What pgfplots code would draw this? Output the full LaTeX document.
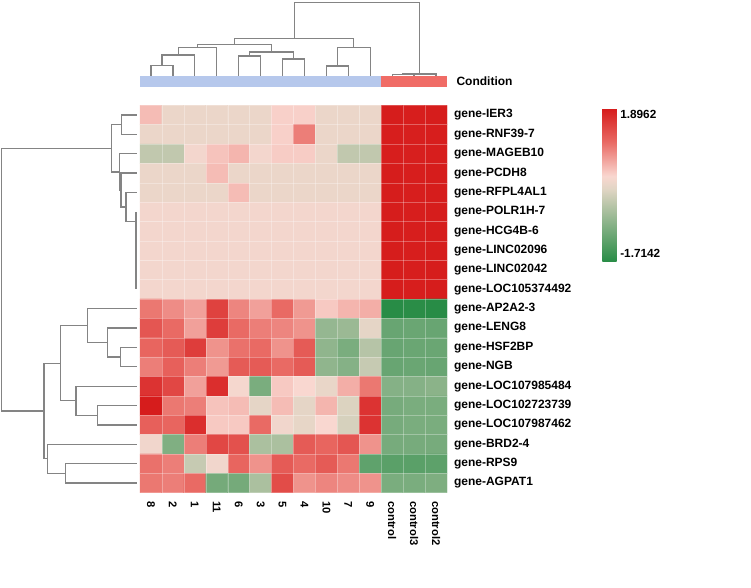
\documentclass[border=0pt]{standalone}
\usepackage{fontspec}
\setmainfont{Liberation Sans}
\usepackage{pgfplots}
\pgfplotsset{compat=1.18}

\definecolor{dendro}{RGB}{132,132,132}
\definecolor{condblue}{RGB}{182,200,236}
\definecolor{condred}{RGB}{240,108,102}

\begin{document}
\begin{tikzpicture}
\path[use as bounding box] (0,0) rectangle (751bp,588bp);
\begin{axis}[
  at={(140bp,95.3bp)}, anchor=south west,
  scale only axis, width=307bp, height=387.4bp,
  xmin=-0.5, xmax=13.5, ymin=-0.5, ymax=19.5,
  clip=false, axis on top,
  axis line style={draw=none},
  major tick length=0pt, minor tick length=0pt,
  colormap={heat}{
    rgb255(0cm)=(40,140,70);
    rgb255(1.7142cm)=(225,213,196);
    rgb255(2.0142cm)=(249,215,208);
    rgb255(2.8142cm)=(233,106,100);
    rgb255(3.6104cm)=(214,27,27)
  },
  point meta min=-1.7142, point meta max=1.8962,
  xtick={0,...,13},
  xticklabels={8,2,1,11,6,3,5,4,10,7,9,control,control3,control2},
  xticklabel shift=5bp,
  xticklabel style={rotate=-90, anchor=west, font=\fontsize{11.2bp}{12bp}\selectfont\bfseries},
  ytick={0,...,19},
  yticklabels={gene-AGPAT1,gene-RPS9,gene-BRD2-4,gene-LOC107987462,gene-LOC102723739,
    gene-LOC107985484,gene-NGB,gene-HSF2BP,gene-LENG8,gene-AP2A2-3,gene-LOC105374492,
    gene-LINC02042,gene-LINC02096,gene-HCG4B-6,gene-POLR1H-7,gene-RFPL4AL1,gene-PCDH8,
    gene-MAGEB10,gene-RNF39-7,gene-IER3},
  yticklabel pos=right,
  yticklabel shift=3.5bp,
  yticklabel style={anchor=west, font=\fontsize{12bp}{13bp}\selectfont\bfseries},
  minor xtick={0.5,1.5,...,12.5},
  minor ytick={0.5,1.5,...,18.5},
  xminorgrids, yminorgrids,
  minor grid style={white, line width=0.4bp, opacity=0.3},
  colorbar,
  colorbar style={
    at={(1.506,0.9923)}, anchor=north west,
    scale only axis, width=14.4bp, height=153.4bp,
    axis line style={draw=none},
    major tick length=0pt,
    ytick={-1.509,1.762},
    yticklabels={-1.7142,1.8962},
    yticklabel style={anchor=west, font=\fontsize{11.8bp}{13bp}\selectfont\bfseries},
  },
]
% heatmap cells: column index, row position (IER3 on top), z-score
% columns 8,2,1,11,6,3,5,4,10,7,9,control,control3,control2
\addplot[matrix plot*, mesh/cols=14, point meta=explicit] table[row sep=\\, meta=c] {
x y c\\
0 19 0.50\\ 1 19 0.12\\ 2 19 0.12\\ 3 19 0.12\\ 4 19 0.12\\ 5 19 0.12\\ 6 19 0.35\\ 7 19 0.35\\ 8 19 0.12\\ 9 19 0.12\\ 10 19 0.12\\ 11 19 1.88\\ 12 19 1.87\\ 13 19 1.88\\
0 18 0.12\\ 1 18 0.12\\ 2 18 0.12\\ 3 18 0.12\\ 4 18 0.12\\ 5 18 0.12\\ 6 18 0.35\\ 7 18 0.95\\ 8 18 0.12\\ 9 18 0.12\\ 10 18 0.12\\ 11 18 1.87\\ 12 18 1.86\\ 13 18 1.87\\
0 17 -0.30\\ 1 17 -0.30\\ 2 17 0.22\\ 3 17 0.45\\ 4 17 0.55\\ 5 17 0.22\\ 6 17 0.38\\ 7 17 0.38\\ 8 17 0.12\\ 9 17 -0.30\\ 10 17 -0.30\\ 11 17 1.87\\ 12 17 1.86\\ 13 17 1.87\\
0 16 0.12\\ 1 16 0.12\\ 2 16 0.12\\ 3 16 0.50\\ 4 16 0.12\\ 5 16 0.12\\ 6 16 0.12\\ 7 16 0.12\\ 8 16 0.12\\ 9 16 0.12\\ 10 16 0.12\\ 11 16 1.88\\ 12 16 1.87\\ 13 16 1.88\\
0 15 0.12\\ 1 15 0.12\\ 2 15 0.12\\ 3 15 0.12\\ 4 15 0.50\\ 5 15 0.12\\ 6 15 0.12\\ 7 15 0.12\\ 8 15 0.12\\ 9 15 0.12\\ 10 15 0.12\\ 11 15 1.88\\ 12 15 1.87\\ 13 15 1.88\\
0 14 0.22\\ 1 14 0.22\\ 2 14 0.22\\ 3 14 0.22\\ 4 14 0.22\\ 5 14 0.22\\ 6 14 0.22\\ 7 14 0.22\\ 8 14 0.22\\ 9 14 0.22\\ 10 14 0.22\\ 11 14 1.88\\ 12 14 1.87\\ 13 14 1.88\\
0 13 0.22\\ 1 13 0.22\\ 2 13 0.22\\ 3 13 0.22\\ 4 13 0.22\\ 5 13 0.22\\ 6 13 0.22\\ 7 13 0.22\\ 8 13 0.22\\ 9 13 0.22\\ 10 13 0.22\\ 11 13 1.88\\ 12 13 1.87\\ 13 13 1.88\\
0 12 0.22\\ 1 12 0.22\\ 2 12 0.22\\ 3 12 0.22\\ 4 12 0.22\\ 5 12 0.22\\ 6 12 0.22\\ 7 12 0.22\\ 8 12 0.22\\ 9 12 0.22\\ 10 12 0.22\\ 11 12 1.88\\ 12 12 1.87\\ 13 12 1.88\\
0 11 0.22\\ 1 11 0.22\\ 2 11 0.22\\ 3 11 0.22\\ 4 11 0.22\\ 5 11 0.22\\ 6 11 0.22\\ 7 11 0.22\\ 8 11 0.22\\ 9 11 0.22\\ 10 11 0.22\\ 11 11 1.88\\ 12 11 1.87\\ 13 11 1.88\\
0 10 0.22\\ 1 10 0.22\\ 2 10 0.22\\ 3 10 0.22\\ 4 10 0.22\\ 5 10 0.22\\ 6 10 0.22\\ 7 10 0.22\\ 8 10 0.22\\ 9 10 0.22\\ 10 10 0.22\\ 11 10 1.88\\ 12 10 1.87\\ 13 10 1.88\\
0 9 1.00\\ 1 9 0.85\\ 2 9 0.70\\ 3 9 1.50\\ 4 9 0.90\\ 5 9 0.70\\ 6 9 1.10\\ 7 9 0.75\\ 8 9 0.40\\ 9 9 0.55\\ 10 9 0.60\\ 11 9 -1.71\\ 12 9 -1.70\\ 13 9 -1.71\\
0 8 1.30\\ 1 8 1.10\\ 2 8 0.70\\ 3 8 1.55\\ 4 8 1.10\\ 5 8 0.95\\ 6 8 0.90\\ 7 8 0.80\\ 8 8 -0.70\\ 9 8 -0.65\\ 10 8 0.05\\ 11 8 -1.12\\ 12 8 -1.10\\ 13 8 -1.12\\
0 7 1.15\\ 1 7 1.25\\ 2 7 1.55\\ 3 7 0.80\\ 4 7 1.05\\ 5 7 1.10\\ 6 7 0.80\\ 7 7 1.25\\ 8 7 -0.75\\ 9 7 -0.95\\ 10 7 -0.40\\ 11 7 -1.12\\ 12 7 -1.10\\ 13 7 -1.10\\
0 6 0.95\\ 1 6 1.20\\ 2 6 0.95\\ 3 6 0.75\\ 4 6 1.25\\ 5 6 1.25\\ 6 6 1.10\\ 7 6 1.25\\ 8 6 -0.75\\ 9 6 -0.85\\ 10 6 -0.25\\ 11 6 -1.12\\ 12 6 -1.10\\ 13 6 -1.12\\
0 5 1.65\\ 1 5 1.45\\ 2 5 0.70\\ 3 5 1.70\\ 4 5 0.25\\ 5 5 -0.95\\ 6 5 0.40\\ 7 5 0.30\\ 8 5 0.10\\ 9 5 0.60\\ 10 5 1.00\\ 11 5 -0.85\\ 12 5 -0.85\\ 13 5 -0.80\\
0 4 1.89\\ 1 4 1.00\\ 2 4 0.95\\ 3 4 0.45\\ 4 4 0.50\\ 5 4 0.05\\ 6 4 0.50\\ 7 4 0.05\\ 8 4 0.55\\ 9 4 -0.05\\ 10 4 1.65\\ 11 4 -0.98\\ 12 4 -0.95\\ 13 4 -0.95\\
0 3 1.20\\ 1 3 1.15\\ 2 3 1.70\\ 3 3 0.40\\ 4 3 0.40\\ 5 3 1.10\\ 6 3 0.20\\ 7 3 0.08\\ 8 3 0.30\\ 9 3 -0.10\\ 10 3 1.65\\ 11 3 -0.98\\ 12 3 -0.95\\ 13 3 -0.95\\
0 2 0.20\\ 1 2 -0.90\\ 2 2 0.95\\ 3 2 1.45\\ 4 2 1.35\\ 5 2 -0.50\\ 6 2 -0.50\\ 7 2 1.25\\ 8 2 1.15\\ 9 2 1.30\\ 10 2 0.80\\ 11 2 -0.98\\ 12 2 -0.98\\ 13 2 -0.98\\
0 1 1.05\\ 1 1 0.95\\ 2 1 -0.25\\ 3 1 0.20\\ 4 1 1.15\\ 5 1 0.80\\ 6 1 1.25\\ 7 1 1.10\\ 8 1 1.25\\ 9 1 1.00\\ 10 1 -1.20\\ 11 1 -1.25\\ 12 1 -1.25\\ 13 1 -1.22\\
0 0 1.00\\ 1 0 0.95\\ 2 0 1.10\\ 3 0 -1.00\\ 4 0 -1.00\\ 5 0 -0.50\\ 6 0 1.40\\ 7 0 0.80\\ 8 0 0.90\\ 9 0 0.85\\ 10 0 0.80\\ 11 0 -0.95\\ 12 0 -0.95\\ 13 0 -0.92\\
};

% condition annotation bar
\addplot[fill=condblue, draw=none] coordinates {(-0.5,20.43) (10.5,20.43) (10.5,21.03) (-0.5,21.03)} -- cycle;
\addplot[fill=condred, draw=none] coordinates {(10.5,20.43) (13.5,20.43) (13.5,21.03) (10.5,21.03)} -- cycle;
\node[anchor=west, font=\fontsize{12bp}{13bp}\selectfont\bfseries, xshift=6bp] at (axis cs:13.5,20.73) {Condition};

% column dendrogram
\addplot[dendro, line width=1.3bp] coordinates {(0,21.03)(0,21.545)(1,21.545)(1,21.03)};
\addplot[dendro, line width=1.3bp] coordinates {(0.5,21.545)(0.5,22.098)(2,22.098)(2,21.03)};
\addplot[dendro, line width=1.3bp] coordinates {(1.25,22.098)(1.25,22.495)(3,22.495)(3,21.03)};
\addplot[dendro, line width=1.3bp] coordinates {(4,21.03)(4,22.046)(5,22.046)(5,21.03)};
\addplot[dendro, line width=1.3bp] coordinates {(6,21.03)(6,21.891)(7,21.891)(7,21.03)};
\addplot[dendro, line width=1.3bp] coordinates {(4.5,22.046)(4.5,22.253)(6.5,22.253)(6.5,21.891)};
\addplot[dendro, line width=1.3bp] coordinates {(2.125,22.495)(2.125,22.650)(5.5,22.650)(5.5,22.253)};
\addplot[dendro, line width=1.3bp] coordinates {(8,21.03)(8,21.530)(9,21.530)(9,21.03)};
\addplot[dendro, line width=1.3bp] coordinates {(8.5,21.530)(8.5,22.475)(10,22.475)(10,21.03)};
\addplot[dendro, line width=1.3bp] coordinates {(3.8125,22.650)(3.8125,22.960)(9.25,22.960)(9.25,22.475)};
\addplot[dendro, line width=1.3bp] coordinates {(11,21.03)(11,21.10)(12,21.10)(12,21.03)};
\addplot[dendro, line width=1.3bp] coordinates {(11.5,21.10)(11.5,21.12)(13,21.12)(13,21.03)};
\addplot[dendro, line width=1.3bp] coordinates {(6.53125,22.960)(6.53125,24.798)(12.25,24.798)(12.25,21.12)};

% row dendrogram
\addplot[dendro, line width=1.3bp] coordinates {(-0.65,19)(-1.335,19)(-1.335,18)(-0.65,18)};
\addplot[dendro, line width=1.3bp] coordinates {(-0.68,14)(-0.68,10)};
\addplot[dendro, line width=1.3bp] coordinates {(-0.65,15)(-1.14,15)(-1.14,13.5)(-0.68,13.5)};
\addplot[dendro, line width=1.3bp] coordinates {(-0.65,16)(-1.366,16)(-1.366,14.25)(-1.14,14.25)};
\addplot[dendro, line width=1.3bp] coordinates {(-0.65,17)(-1.435,17)(-1.435,15.125)(-1.366,15.125)};
\addplot[dendro, line width=1.3bp] coordinates {(-1.335,18.5)(-1.79,18.5)(-1.79,16.06)(-1.435,16.06)};
\addplot[dendro, line width=1.3bp] coordinates {(-0.65,7)(-1.38,7)(-1.38,6)(-0.65,6)};
\addplot[dendro, line width=1.3bp] coordinates {(-0.65,8)(-1.99,8)(-1.99,6.5)(-1.38,6.5)};
\addplot[dendro, line width=1.3bp] coordinates {(-0.65,9)(-2.90,9)(-2.90,7.25)(-1.99,7.25)};
\addplot[dendro, line width=1.3bp] coordinates {(-0.65,4)(-2.45,4)(-2.45,3)(-0.65,3)};
\addplot[dendro, line width=1.3bp] coordinates {(-0.65,5)(-3.42,5)(-3.42,3.5)(-2.45,3.5)};
\addplot[dendro, line width=1.3bp] coordinates {(-2.90,8.125)(-4.12,8.125)(-4.12,4.25)(-3.42,4.25)};
\addplot[dendro, line width=1.3bp] coordinates {(-0.65,1)(-3.89,1)(-3.89,0)(-0.65,0)};
\addplot[dendro, line width=1.3bp] coordinates {(-0.65,2)(-4.71,2)(-4.71,0.5)(-3.89,0.5)};
\addplot[dendro, line width=1.3bp] coordinates {(-4.12,6.1875)(-4.88,6.1875)(-4.88,1.25)(-4.71,1.25)};
\addplot[dendro, line width=1.3bp] coordinates {(-1.79,17.28)(-6.81,17.28)(-6.81,3.72)(-4.88,3.72)};
\end{axis}
\end{tikzpicture}
\end{document}
